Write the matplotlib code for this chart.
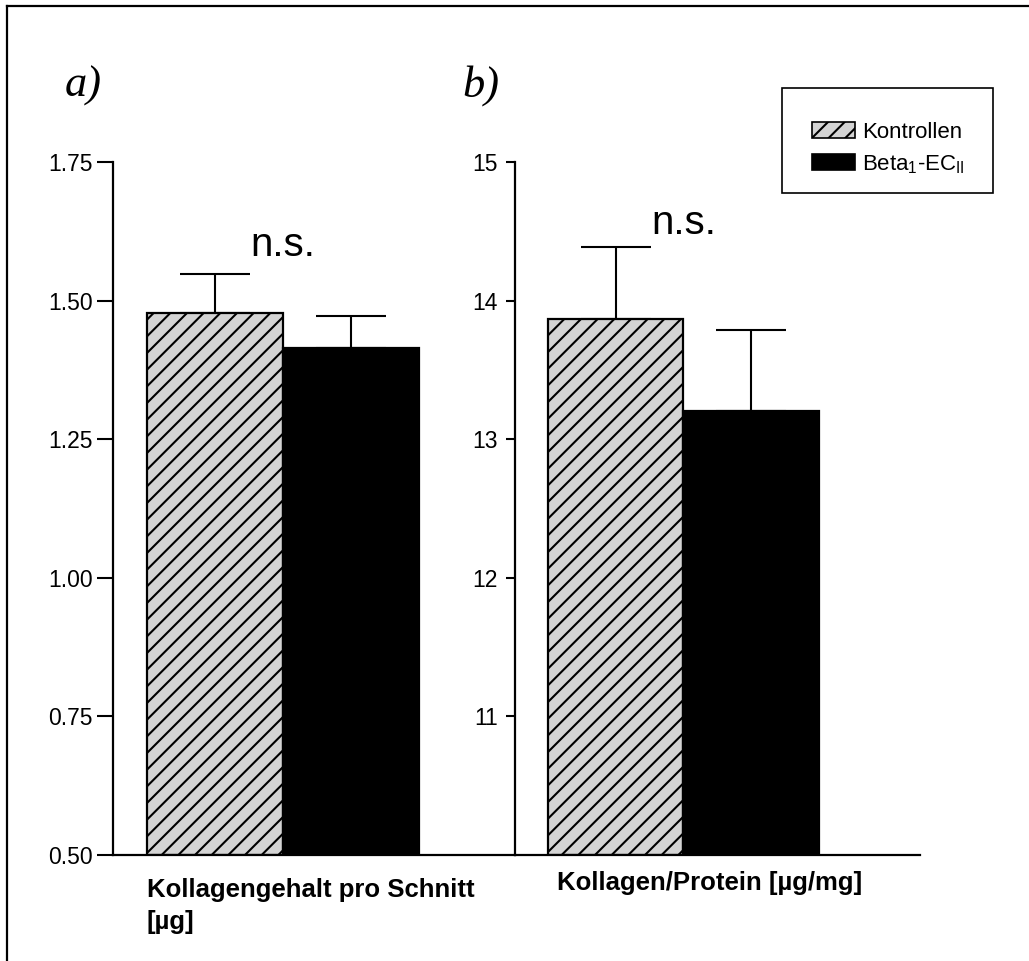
import matplotlib
matplotlib.use("Agg")
import matplotlib.pyplot as plt
from matplotlib.patches import Patch, Rectangle
from matplotlib.lines import Line2D
from matplotlib.ticker import FormatStrFormatter

plt.rcParams['font.family'] = ['Liberation Sans', 'DejaVu Sans']
plt.rcParams['hatch.linewidth'] = 1.5
plt.rcParams['mathtext.fontset'] = 'custom'
plt.rcParams['mathtext.rm'] = 'Liberation Sans'
plt.rcParams['mathtext.it'] = 'Liberation Sans'

groups = ["Kontrollen", r"Beta$_{\mathrm{1}}$-EC$_{\mathrm{II}}$"]
colors = ["#d4d4d4", "#000000"]
hatches = ["//", ""]

# panel a
a_means = [1.478, 1.415]
a_err = [0.070, 0.058]
a_yticks = [0.50, 0.75, 1.00, 1.25, 1.50, 1.75]
a_label = "Kollagengehalt pro Schnitt\n[µg]"

# panel b
b_means = [13.87, 13.20]
b_err = [0.52, 0.59]
b_yticks = [11, 12, 13, 14, 15]
b_label = "Kollagen/Protein [µg/mg]"

W, H = 1029, 961
fig = plt.figure(figsize=(W/100, H/100), dpi=100)

def px(x0, y0, x1, y1):
    return [x0/W, 1 - y1/H, (x1-x0)/W, (y1-y0)/H]

axa = fig.add_axes(px(113, 162, 515, 855))
axb = fig.add_axes(px(515, 162, 920, 855))

def draw(ax, means, errs, ylim, xlim):
    xs = list(range(len(means)))
    for x, m, c, h in zip(xs, means, colors, hatches):
        ax.bar(x, m - ylim[0], bottom=ylim[0], width=1.0, color=c, hatch=h,
               edgecolor='black', linewidth=1.6, zorder=2)
    ax.errorbar(xs, means, yerr=[[0]*len(errs), errs], fmt='none', ecolor='black',
                elinewidth=1.5, capsize=25, capthick=1.5, zorder=1)
    ax.set_ylim(*ylim)
    ax.set_xlim(*xlim)
    ax.set_xticks([])
    for s in ['top', 'right']:
        ax.spines[s].set_visible(False)
    for s in ['left', 'bottom']:
        ax.spines[s].set_linewidth(1.6)
    ax.set_facecolor('none')

draw(axa, a_means, a_err, (0.5, 1.75), (-0.752, 2.204))
draw(axb, b_means, b_err, (10, 15), (-0.744, 2.248))

axa.set_yticks(a_yticks)
axa.yaxis.set_major_formatter(FormatStrFormatter('%.2f'))
axa.tick_params(axis='y', length=11.5, width=1.5, pad=3, labelsize=16.5)
axb.set_yticks(b_yticks)
axb.tick_params(axis='y', length=6.5, width=1.5, pad=6, labelsize=16.5)

axa.text(0.5, 1.600, "n.s.", ha='center', va='center', fontsize=29)
axb.text(0.5, 14.56, "n.s.", ha='center', va='center', fontsize=29)

fig.text(147/W, 1 - 906/H, a_label, ha='left', va='center', fontsize=18.5,
         fontweight='bold', linespacing=1.45)
fig.text(557/W, 1 - 883/H, b_label, ha='left', va='center', fontsize=18.5,
         fontweight='bold')

fig.text(65/W, 1 - 86/H, "a)", family='Liberation Serif', style='italic',
         fontsize=32, ha='left', va='center')
fig.text(462/W, 1 - 86/H, "b)", family='Liberation Serif', style='italic',
         fontsize=32, ha='left', va='center')

handles = [Patch(facecolor=c, edgecolor='black', hatch=h, linewidth=1.2)
           for c, h in zip(colors, hatches)]
leg = fig.legend(handles, groups, loc='upper left',
                 bbox_to_anchor=(812/W, 1 - 122/H), fontsize=16,
                 frameon=False, borderpad=0, handlelength=1.95, handleheight=0.75,
                 handletextpad=0.3, labelspacing=0.45, borderaxespad=0)

fig.add_artist(Rectangle((782/W, 1 - 193/H), (993-782)/W, (193-88)/H,
                         transform=fig.transFigure, fill=False,
                         edgecolor='black', linewidth=1.2))

# outer frame (top and left edges visible)
fig.add_artist(Line2D([7/W, 7/W], [0, 1 - 6/H], transform=fig.transFigure,
                      color='black', linewidth=1.6))
fig.add_artist(Line2D([7/W, 1], [1 - 6/H, 1 - 6/H], transform=fig.transFigure,
                      color='black', linewidth=1.6))

fig.savefig("out.png", dpi=100)
